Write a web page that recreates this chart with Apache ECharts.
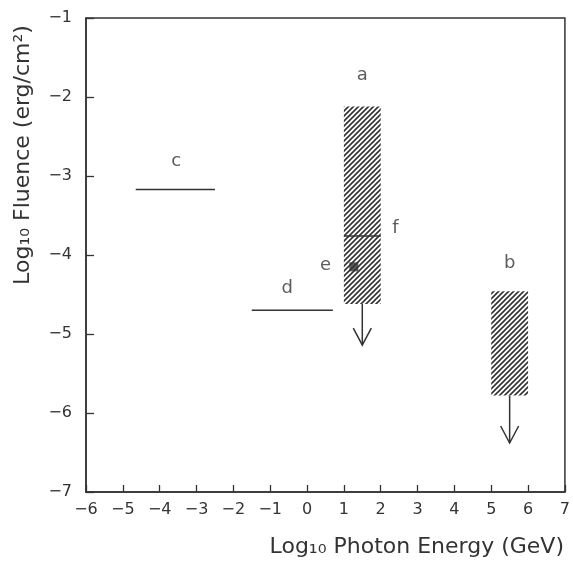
<!DOCTYPE html>
<html>
<head>
<meta charset="utf-8">
<script src="https://cdn.jsdelivr.net/npm/echarts@6/dist/echarts.min.js"></script>
<style>
  html, body { margin: 0; padding: 0; background: #fff; }
  #chart { width: 573px; height: 561px; }
</style>
</head>
<body>
<div id="chart"></div>
<script>
// values (log10 GeV, log10 erg/cm^2)
const lineC = [[-4.65, -3.17], [-2.5, -3.17]];
const lineD = [[-1.5, -4.7], [0.7, -4.7]];
const lineF = [[1.0, -3.76], [2.0, -3.76]];
const pointE = [[1.27, -4.15]];
// bands: [xFrom, xTo, yLow, yHigh]
const bands = [
  [1.0, 2.0, -4.62, -2.12],
  [5.0, 6.0, -5.78, -4.46],
];
// upper-limit arrows: [x, yFrom, yTip]
const arrows = [
  [1.5, -4.62, -5.14],
  [5.5, -5.78, -6.38],
];
const labels = [
  [-3.55, -2.82, 'c'],
  [-0.54, -4.42, 'd'],
  [0.5, -4.13, 'e'],
  [1.5, -1.72, 'a'],
  [2.4, -3.66, 'f'],
  [5.5, -4.1, 'b'],
];

const ink = '#333';
const font = '"DejaVu Sans", "Liberation Sans", sans-serif';

function makeHatch() {
  const s = 5;
  const c = document.createElement('canvas');
  c.width = s; c.height = s;
  const ctx = c.getContext('2d');
  ctx.strokeStyle = ink;
  ctx.lineWidth = 1.6;
  ctx.beginPath();
  ctx.moveTo(-1, s + 1); ctx.lineTo(s + 1, -1);
  ctx.moveTo(-1, 1); ctx.lineTo(1, -1);
  ctx.moveTo(s - 1, s + 1); ctx.lineTo(s + 1, s - 1);
  ctx.stroke();
  return c;
}
const hatch = { image: makeHatch(), repeat: 'repeat' };

const minus = v => String(v).replace('-', '\u2212');

function hLine(data) {
  return {
    type: 'line', data, symbol: 'none', silent: true,
    lineStyle: { color: ink, width: 1.5 },
  };
}

const chart = echarts.init(document.getElementById('chart'));
chart.setOption({
  animation: false,
  backgroundColor: '#fff',
  grid: { left: 86, right: 6, top: 18, bottom: 69, show: true, borderColor: ink, borderWidth: 1.5 },
  xAxis: {
    type: 'value', min: -6, max: 7, interval: 1,
    axisLine: { onZero: false, lineStyle: { color: ink, width: 1.5 } },
    axisTick: { inside: true, length: 7, lineStyle: { color: ink, width: 1.3 } },
    axisLabel: { color: ink, fontSize: 16, fontFamily: font, margin: 10, formatter: minus },
    splitLine: { show: false },
  },
  yAxis: {
    type: 'value', min: -7, max: -1, interval: 1,
    axisLine: { onZero: false, lineStyle: { color: ink, width: 1.5 } },
    axisTick: { inside: true, length: 8, lineStyle: { color: ink, width: 1.3 } },
    axisLabel: { color: ink, fontSize: 16, fontFamily: font, margin: 14, formatter: minus },
    splitLine: { show: false },
  },
  graphic: [
    {
      type: 'text', x: 23, y: 155, rotation: Math.PI / 2,
      style: {
        text: 'Log\u2081\u2080 Fluence (erg/cm\u00b2)', fill: ink,
        font: '22px ' + font, textAlign: 'center', textVerticalAlign: 'middle',
      },
    },
    {
      type: 'text', x: 564, y: 547,
      style: {
        text: 'Log\u2081\u2080 Photon Energy (GeV)', fill: ink,
        font: '22px ' + font, textAlign: 'right', textVerticalAlign: 'middle',
      },
    },
  ],
  series: [
    {
      type: 'custom', data: bands, silent: true,
      renderItem: (params, api) => {
        const p0 = api.coord([api.value(0), api.value(3)]);
        const p1 = api.coord([api.value(1), api.value(2)]);
        return {
          type: 'rect',
          shape: { x: p0[0], y: p0[1], width: p1[0] - p0[0], height: p1[1] - p0[1] },
          style: { fill: hatch, stroke: null },
        };
      },
    },
    hLine(lineC),
    hLine(lineD),
    hLine(lineF),
    {
      type: 'custom', data: arrows, silent: true,
      renderItem: (params, api) => {
        const a = api.coord([api.value(0), api.value(1)]);
        const b = api.coord([api.value(0), api.value(2)]);
        const st = { stroke: ink, lineWidth: 1.5, fill: null };
        return {
          type: 'group',
          children: [
            { type: 'line', shape: { x1: a[0], y1: a[1], x2: b[0], y2: b[1] }, style: st },
            { type: 'polyline', shape: { points: [[b[0] - 9, b[1] - 17], [b[0], b[1]], [b[0] + 9, b[1] - 17]] }, style: st },
          ],
        };
      },
    },
    {
      type: 'scatter', data: pointE, symbol: 'rect', symbolSize: 9, silent: true,
      itemStyle: { color: ink },
    },
    {
      type: 'scatter', data: labels, symbolSize: 0, silent: true,
      label: {
        show: true, position: 'inside', color: ink, fontSize: 18, fontFamily: font,
        formatter: p => p.value[2],
      },
    },
  ],
});
</script>
</body>
</html>
